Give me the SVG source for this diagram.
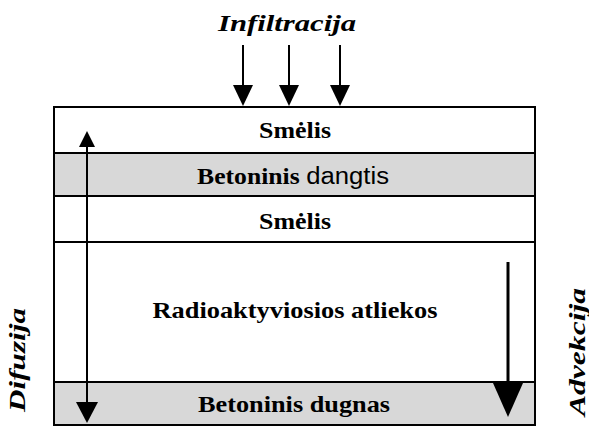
<svg xmlns="http://www.w3.org/2000/svg" width="589" height="427" viewBox="0 0 589 427">
<style>
.layer{stroke:#000;stroke-width:2}
.white{fill:#fff}
.gray{fill:#d8d8d8}
.lbl{font-family:"Liberation Serif","DejaVu Serif",serif;font-weight:bold;font-size:23px;text-anchor:middle;fill:#000}
.side{font-family:"Liberation Serif","DejaVu Serif",serif;font-weight:bold;font-style:italic;font-size:24px;text-anchor:middle;fill:#000}
.ln{stroke:#000;stroke-width:2;fill:none}
</style>
<rect width="589" height="427" fill="#fff"/>
<g id="smelis1"><rect class="layer white" x="54" y="107" width="481" height="46"/><text class="lbl" x="295" y="138" textLength="72" lengthAdjust="spacingAndGlyphs">Smėlis</text></g>
<g id="betoninis-dangtis"><rect class="layer gray" x="54" y="153" width="481" height="43"/><text class="lbl" x="293" y="184" textLength="192" lengthAdjust="spacingAndGlyphs">Betoninis <tspan font-weight="normal" font-family="Liberation Sans, Arial, sans-serif">dangtis</tspan></text></g>
<g id="smelis2"><rect class="layer white" x="54" y="196" width="481" height="46"/><text class="lbl" x="295" y="229" textLength="72" lengthAdjust="spacingAndGlyphs">Smėlis</text></g>
<g id="radioaktyviosios"><rect class="layer white" x="54" y="242" width="481" height="140"/><text class="lbl" x="295" y="318" textLength="285" lengthAdjust="spacingAndGlyphs">Radioaktyviosios atliekos</text></g>
<g id="betoninis-dugnas"><rect class="layer gray" x="54" y="382" width="481" height="43"/><text class="lbl" x="294" y="412" textLength="192" lengthAdjust="spacingAndGlyphs">Betoninis dugnas</text></g>
<g id="infiltracija"><text class="side" x="287" y="31" textLength="138" lengthAdjust="spacingAndGlyphs">Infiltracija</text></g>
<g id="difuzija"><text class="side" transform="translate(25,360) rotate(-90)" textLength="104" lengthAdjust="spacingAndGlyphs">Difuzija</text></g>
<g id="advekcija"><text class="side" transform="translate(585,352) rotate(-90)" textLength="128" lengthAdjust="spacingAndGlyphs">Advekcija</text></g>
<g id="connectors">
<line class="ln" x1="243" y1="45" x2="243" y2="88"/><polygon points="233,85 253,85 243,106"/>
<line class="ln" x1="289" y1="45" x2="289" y2="88"/><polygon points="279,85 299,85 289,106"/>
<line class="ln" x1="340" y1="45" x2="340" y2="88"/><polygon points="330,85 350,85 340,106"/>
<line class="ln" x1="87" y1="145" x2="87" y2="404"/><polygon points="79,147 95,147 87,131"/><polygon points="76,402 98,402 87,423"/>
<line stroke="#000" stroke-width="3" x1="508" y1="262" x2="508" y2="386"/><polygon points="493,383 523,383 508,417"/>
</g>
</svg>
